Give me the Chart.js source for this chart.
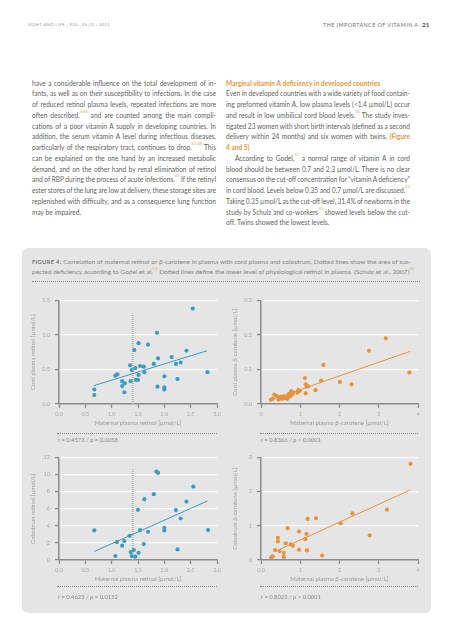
<!DOCTYPE html>
<html><head><meta charset="utf-8">
<script src="https://cdn.jsdelivr.net/npm/chart.js@4/dist/chart.umd.min.js"></script>
<style>
html,body{margin:0;padding:0;background:#fff;}
body{width:453px;height:640px;position:relative;overflow:hidden;font-family:Lato,"Open Sans",sans-serif;color:#626262;}
.abs{position:absolute;white-space:nowrap;}
.col{position:absolute;top:77.6px;width:184px;font-size:6.6px;}
.col div{white-space:nowrap;text-align:left;height:10.75px;line-height:10.75px;overflow:visible;}
sup{font-size:4px;color:#e9a35c;vertical-align:top;line-height:0;position:relative;top:2px;}
.or{color:#e8963a;font-weight:bold;}
.box{position:absolute;left:22px;top:248px;width:409px;height:365px;background:#e5e5e5;border-radius:6px;}
.cap{position:absolute;left:32px;font-size:6.5px;color:#848484;line-height:10px;white-space:nowrap;}
.dot{position:absolute;height:0;border-top:1px dotted #8a8a8a;}
.rtxt{position:absolute;font-size:5.8px;color:#8a8a8a;white-space:nowrap;line-height:7px;}
canvas{position:absolute;}
</style>
</head><body>
<div class="abs" style="left:28px;top:22px;font-size:4.3px;letter-spacing:0.35px;color:#9a9a9a;">SIGHT AND LIFE | VOL. 25 (3) | 2011</div>
<div class="abs" style="left:323px;top:21.5px;font-size:5.4px;letter-spacing:0.45px;color:#707070;">THE IMPORTANCE OF VITAMIN A</div>
<div class="abs" style="left:422px;top:21px;font-size:6.4px;font-weight:bold;color:#555;">21</div>

<div class="col" style="left:32px;">
<div class="j">have a considerable influence on the total development of in-</div>
<div class="j">fants, as well as on their susceptibility to infections. In the case</div>
<div class="j">of reduced retinol plasma levels, repeated infections are more</div>
<div class="j">often described.<sup>3,46</sup> and are counted among the main compli-</div>
<div class="j">cations of a poor vitamin A supply in developing countries. In</div>
<div class="j">addition, the serum vitamin A level during infectious diseases,</div>
<div class="j">particularly of the respiratory tract, continues to drop.<sup>47,48</sup> This</div>
<div class="j">can be explained on the one hand by an increased metabolic</div>
<div class="j">demand, and on the other hand by renal elimination of retinol</div>
<div class="j">and of RBP during the process of acute infections.<sup>49</sup> If the retinyl</div>
<div class="j">ester stores of the lung are low at delivery, these storage sites are</div>
<div class="j">replenished with difficulty, and as a consequence lung function</div>
<div>may be impaired.</div>
</div>

<div class="col" style="left:226px;">
<div class="or">Marginal vitamin A deficiency in developed countries</div>
<div class="j">Even in developed countries with a wide variety of food contain-</div>
<div class="j">ing preformed vitamin A, low plasma levels (&lt;1.4 µmol/L) occur</div>
<div class="j">and result in low umbilical cord blood levels.<sup>50</sup> The study inves-</div>
<div class="j">tigated 23 women with short birth intervals (defined as a second</div>
<div class="j">delivery within 24 months) and six women with twins. <span class="or">(Figure</span></div>
<div><span class="or">4 and 5)</span></div>
<div class="j" style="padding-left:9px;">According to Godel,<sup>51</sup> a normal range of vitamin A in cord</div>
<div class="j">blood should be between 0.7 and 2.3 µmol/L. There is no clear</div>
<div class="j">consensus on the cut-off concentration for “vitamin A deficiency”</div>
<div class="j">in cord blood. Levels below 0.35 and 0.7 µmol/L are discussed.<sup>51</sup></div>
<div class="j">Taking 0.35 µmol/L as the cut-off level, 31.4% of newborns in the</div>
<div class="j">study by Schulz and co-workers<sup>50</sup> showed levels below the cut-</div>
<div>off. Twins showed the lowest levels.</div>
</div>

<div class="box"></div>
<div class="cap j" style="top:257px;width:379px;"><b style="color:#6f6f6f;letter-spacing:0.4px;font-size:5.6px;">FIGURE 4:</b> Correlation of maternal retinol or β-carotene in plasma with cord plasma and colostrum. Dotted lines show the area of sus-</div>
<div class="cap" style="top:267px;">pected deficiency according to Godel et al.<sup>51</sup> Dotted lines define the lower level of physiological retinol in plasma. (Schulz et al., 2007)<sup>50</sup></div>
<div class="dot" style="left:32px;top:281px;width:388px;"></div>

<canvas id="c1" width="200" height="140" style="left:25px;top:292px;"></canvas>
<canvas id="c2" width="200" height="140" style="left:227px;top:292px;"></canvas>
<canvas id="c3" width="200" height="139" style="left:25px;top:449px;"></canvas>
<canvas id="c4" width="200" height="139" style="left:227px;top:449px;"></canvas>

<div class="dot" style="left:57px;top:433px;width:160px;"></div>
<div class="dot" style="left:260px;top:433px;width:158px;"></div>
<div class="dot" style="left:57px;top:586px;width:160px;"></div>
<div class="dot" style="left:260px;top:586px;width:158px;"></div>
<div class="rtxt" style="left:58px;top:435.5px;">r = 0.4573 / p = 0.0058</div>
<div class="rtxt" style="left:261px;top:435.5px;">r = 0.8366 / p &lt; 0.0001</div>
<div class="rtxt" style="left:58px;top:592.5px;">r = 0.4623 / p = 0.0152</div>
<div class="rtxt" style="left:261px;top:592.5px;">r = 0.8023 / p &lt; 0.0001</div>

<script>
// justify each fixed line by adjusting word spacing
document.querySelectorAll('.j').forEach(d => {
  const cs = getComputedStyle(d);
  const target = d.clientWidth - parseFloat(cs.paddingLeft) - parseFloat(cs.paddingRight);
  const s = document.createElement('span');
  while (d.firstChild) s.appendChild(d.firstChild);
  d.appendChild(s);
  const w = s.getBoundingClientRect().width;
  const n = (s.textContent.match(/ /g) || []).length;
  if (n) d.style.wordSpacing = ((target - w) / n) + 'px';
});

// ---- Data: chart 1 (maternal plasma retinol vs cord plasma retinol)
const c1MaternalRetinol = [0.67,0.67,1.07,1.11,1.2,1.2,1.25,1.24,1.35,1.38,1.36,1.43,1.45,1.46,1.51,1.51,1.5,1.54,1.61,1.62,1.69,1.8,1.86,1.88,1.87,2.0,2.0,2.0,2.14,2.22,2.25,2.31,2.42,2.54,2.82];
const c1CordRetinol     = [0.21,0.13,0.41,0.43,0.33,0.26,0.30,0.17,0.56,0.49,0.33,0.78,0.52,0.35,0.88,0.42,0.35,0.55,0.54,0.46,0.86,0.58,1.03,0.66,0.25,0.40,0.24,0.21,0.68,0.58,0.36,0.60,0.77,1.38,0.46];
const c1FitX = [0.66, 2.81];
const c1FitY = [0.265, 0.77];
const c1CutX = [1.4, 1.4];
const c1CutY = [0, 1.31];

// ---- chart 2 (maternal plasma beta-carotene vs cord plasma beta-carotene)
const c2MaternalCarotene = [0.25,0.30,0.34,0.40,0.46,0.45,0.50,0.53,0.56,0.59,0.64,0.67,0.69,0.71,0.74,0.77,0.80,0.82,0.93,0.95,0.99,1.12,1.14,1.14,1.16,1.20,1.39,1.53,1.59,2.01,2.31,2.75,3.18,3.78];
const c2CordCarotene     = [0.012,0.015,0.027,0.023,0.019,0.013,0.020,0.015,0.022,0.016,0.019,0.015,0.020,0.029,0.022,0.037,0.028,0.033,0.033,0.040,0.038,0.075,0.057,0.031,0.050,0.051,0.040,0.068,0.113,0.064,0.057,0.154,0.190,0.091];
const c2FitX = [0.25, 3.79];
const c2FitY = [0.012, 0.152];

// ---- chart 3 (maternal plasma retinol vs colostrum retinol)
const c3MaternalRetinol = [0.67,1.07,1.10,1.20,1.24,1.34,1.36,1.38,1.42,1.45,1.51,1.50,1.54,1.61,1.62,1.69,1.80,1.85,1.88,2.0,2.0,2.22,2.25,2.31,2.42,2.55,2.83];
const c3ColostrumRetinol = [3.46,0.47,2.10,1.67,2.21,2.83,0.93,0.47,1.17,0.39,0.85,5.86,3.50,1.86,7.11,3.30,7.69,10.33,10.17,3.77,3.46,5.83,1.24,4.85,6.83,8.58,3.50];
const c3FitX = [0.67, 2.82];
const c3FitY = [1.0, 6.9];
const c3CutX = [1.4, 1.4];
const c3CutY = [0, 10.7];

// ---- chart 4 (maternal plasma beta-carotene vs colostrum beta-carotene)
const c4MaternalCarotene = [0.26,0.30,0.36,0.43,0.43,0.47,0.58,0.58,0.63,0.68,0.76,0.81,0.97,0.97,1.13,1.16,1.17,1.19,1.40,1.56,2.03,2.33,3.21,2.77,3.81];
const c4ColostrumCarotene = [0.08,0.11,0.29,0.65,0.54,0.26,0.09,0.21,0.49,0.93,0.46,0.42,0.83,0.30,0.61,0.76,0.28,1.20,1.22,0.13,1.07,1.36,1.47,0.72,2.81];
const c4FitX = [0.42, 3.81];
const c4FitY = [0.28, 2.05];

// ---- tick labels
const xTicksRetinol = ["0.0","0.5","1.0","1.5","2.0","2.5","3.0"];
const xTicksCarotene = ["0","1","2","3","4"];
const xTicksCarotene2 = ["0.0","1","2","3","4"];
const yTicksCord = ["0.0","0.5","1.0","1.5"];
const yTicksCordCarotene = ["0.0","0.1","0.2","0.3"];
const yTicksColostrum = ["0","2","4","6","8","10","12"];
const yTicksColostrumCarotene = ["0","1","2","3"];

const BLUE = '#3a9cc4', ORANGE = '#e8923a';
const FONT = 'Lato, "Open Sans", sans-serif';

function pts(xs, ys){ return xs.map((x,i)=>({x:x, y:ys[i]})); }

function make(id, o){
  const ds = [{
    data: pts(o.xs, o.ys), backgroundColor: o.color, borderWidth: 0,
    pointRadius: 2.1, pointHoverRadius: 2.1, order: 0
  },{
    data: pts(o.fx, o.fy), showLine: true, borderColor: o.color, borderWidth: 1,
    pointRadius: 0, order: 1
  }];
  if (o.cx) ds.push({
    data: pts(o.cx, o.cy), showLine: true, borderColor: '#b3b3b3', borderWidth: 2,
    borderDash: [1,1], pointRadius: 0, order: 2
  });
  new Chart(document.getElementById(id), {
    type: 'scatter',
    data: { datasets: ds },
    options: {
      animation: false, responsive: false, maintainAspectRatio: false,
      events: [],
      layout: { padding: { top: 8, right: o.right, left: 0, bottom: 0 } },
      plugins: { legend: { display: false }, tooltip: { enabled: false } },
      scales: {
        x: {
          type: 'linear', min: 0, max: o.xmax,
          afterFit: s => { s.height = 28; },
          ticks: { stepSize: o.xstep, autoSkip: false, maxRotation: 0,
                   callback: (v, i) => o.xl[i], font: { size: 5.5, family: FONT }, color: '#a8a8a8', padding: 2.5 },
          grid: { drawOnChartArea: false, tickColor: '#8c8c8c', tickLength: 4, tickWidth: 1.3 },
          border: { color: '#8c8c8c', width: 1.5 },
          title: { display: true, text: o.xt, font: { size: 6, family: FONT }, color: '#9a9a9a', padding: { top: 0, bottom: 5 } }
        },
        y: {
          type: 'linear', min: 0, max: o.ymax,
          afterFit: s => { s.width = 34; },
          ticks: { stepSize: o.ystep, autoSkip: false,
                   callback: (v, i) => o.yl[i], font: { size: 5.5, family: FONT }, color: '#a8a8a8', padding: 5 },
          grid: { color: c => (c.tick && c.tick.value === 0) ? 'rgba(0,0,0,0)' : '#ffffff', lineWidth: 1.2,
                  tickColor: '#8c8c8c', tickLength: 4, tickWidth: 1.3 },
          border: { color: '#8c8c8c', width: 1.5 },
          title: { display: true, text: o.yt, font: { size: 6, family: FONT }, color: '#a0a0a0', padding: { top: 4, bottom: 0 } }
        }
      }
    }
  });
}

make('c1', { xs: c1MaternalRetinol, ys: c1CordRetinol, fx: c1FitX, fy: c1FitY, cx: c1CutX, cy: c1CutY,
  color: BLUE, xmax: 3, xstep: 0.5, ymax: 1.5, ystep: 0.5, xl: xTicksRetinol, yl: yTicksCord, right: 8,
  xt: 'Maternal plasma retinol [µmol/L]', yt: 'Cord plasma retinol [µmol/L]' });
make('c2', { xs: c2MaternalCarotene, ys: c2CordCarotene, fx: c2FitX, fy: c2FitY,
  color: ORANGE, xmax: 4, xstep: 1, ymax: 0.3, ystep: 0.1, xl: xTicksCarotene, yl: yTicksCordCarotene, right: 9,
  xt: 'Maternal plasma β-carotene [µmol/L]', yt: 'Cord plasma β-carotene [µmol/L]' });
make('c3', { xs: c3MaternalRetinol, ys: c3ColostrumRetinol, fx: c3FitX, fy: c3FitY, cx: c3CutX, cy: c3CutY,
  color: BLUE, xmax: 3, xstep: 0.5, ymax: 12, ystep: 2, xl: xTicksRetinol, yl: yTicksColostrum, right: 8,
  xt: 'Maternal plasma retinol [µmol/L]', yt: 'Colostrum retinol [µmol/L]' });
make('c4', { xs: c4MaternalCarotene, ys: c4ColostrumCarotene, fx: c4FitX, fy: c4FitY,
  color: ORANGE, xmax: 4, xstep: 1, ymax: 3, ystep: 1, xl: xTicksCarotene2, yl: yTicksColostrumCarotene, right: 9,
  xt: 'Maternal plasma β-carotene [µmol/L]', yt: 'Colostrum β-carotene [µmol/L]' });
</script>
</body></html>
